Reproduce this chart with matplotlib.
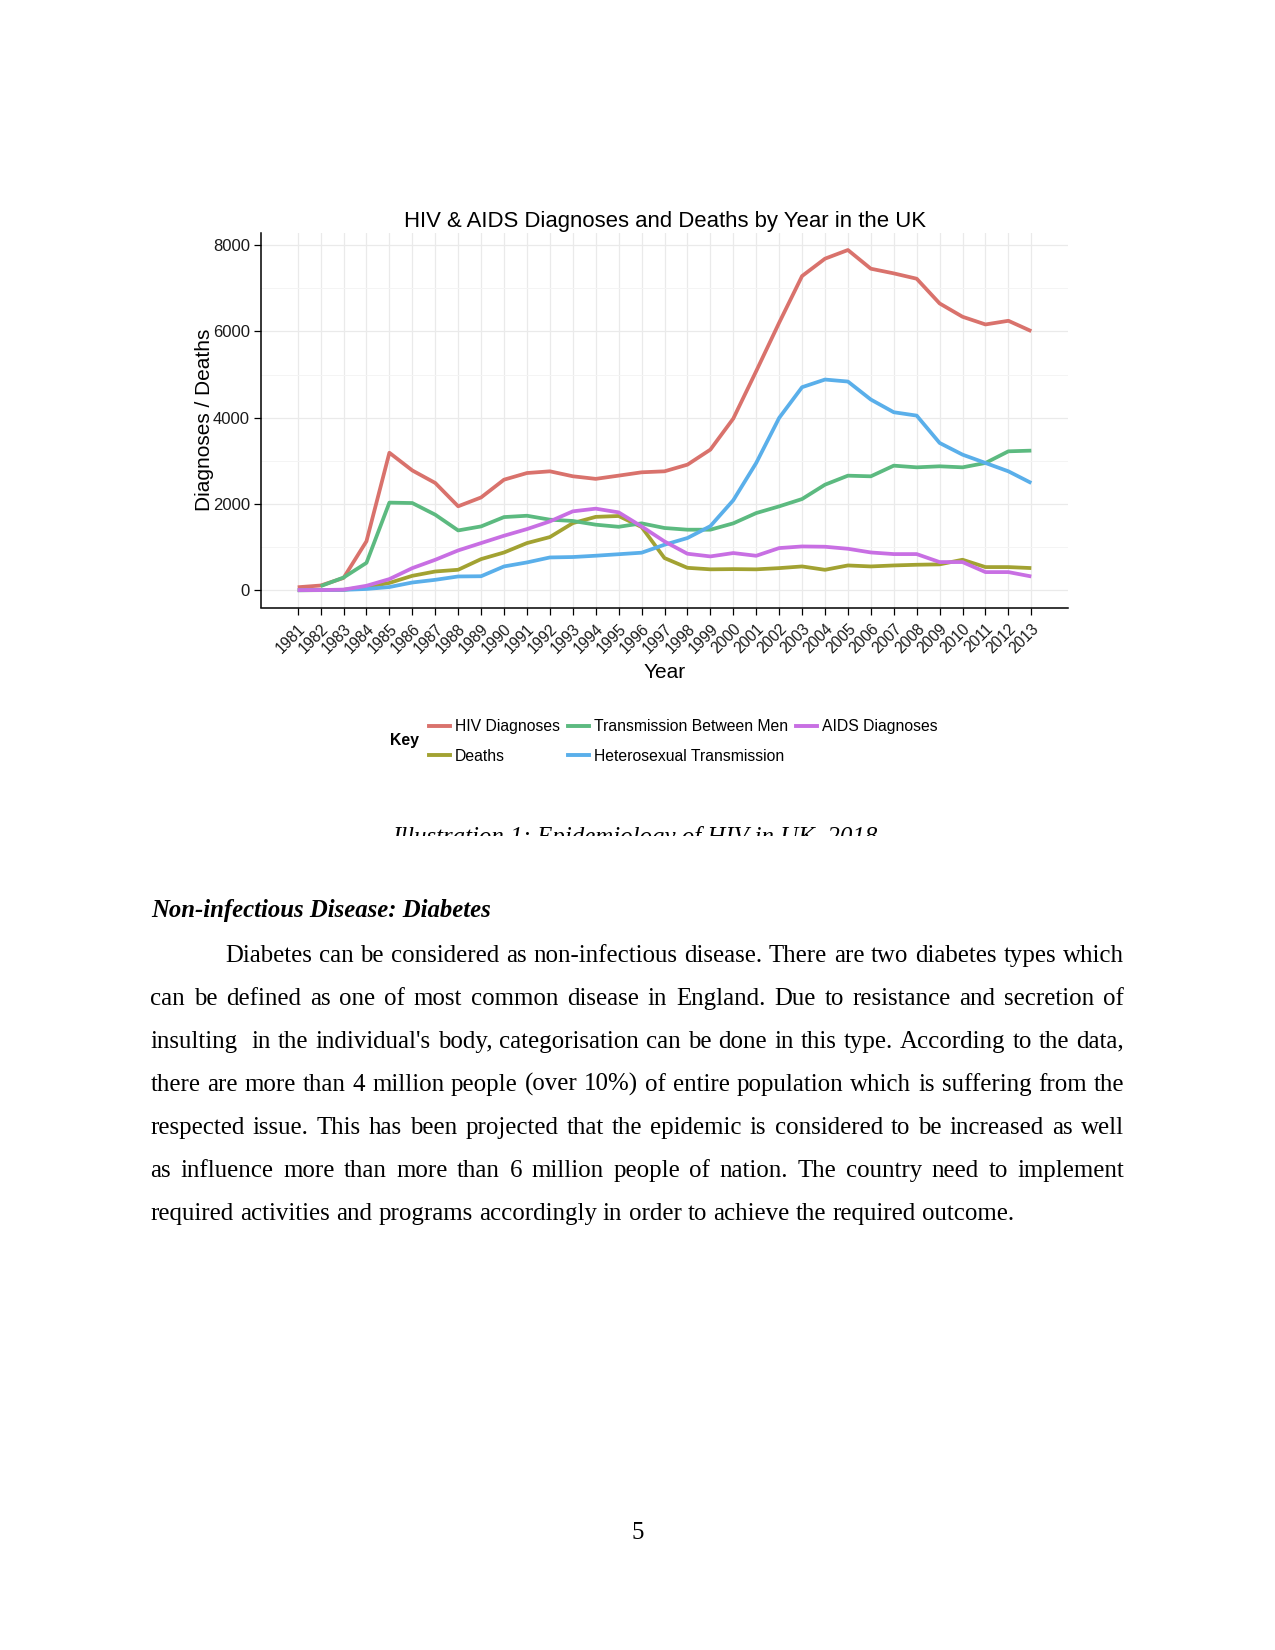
import matplotlib
matplotlib.use("Agg")
import matplotlib.pyplot as plt
import numpy as np
from matplotlib.patches import Rectangle
from matplotlib.lines import Line2D

# ---------------- data ----------------
years = list(range(1981, 2014))
hiv_diagnoses = [75, 115, 290, 1140, 3190, 2780, 2490, 1950, 2155, 2566, 2720, 2760,
                 2645, 2585, 2660, 2737, 2760, 2914, 3262, 3981, 5080, 6200, 7282,
                 7684, 7885, 7452, 7344, 7220, 6648, 6339, 6161, 6246, 6006]
deaths = [5, 8, 15, 80, 175, 340, 440, 480, 727, 880, 1098, 1237, 1560, 1705, 1725,
          1470, 751, 525, 490, 495, 490, 518, 557, 479, 580, 557, 580, 596, 605,
          712, 542, 542, 519]
men_transmission = [np.nan, 100, 300, 640, 2035, 2025, 1755, 1391, 1484, 1700, 1731,
                    1640, 1610, 1524, 1475, 1555, 1447, 1408, 1408, 1555, 1793, 1948,
                    2118, 2450, 2659, 2644, 2891, 2852, 2876, 2852, 2953, 3223, 3239]
hetero_transmission = [5, 10, 15, 35, 80, 185, 247, 325, 330, 557, 650, 765, 775, 805,
                       840, 875, 1060, 1215, 1490, 2090, 2953, 3996, 4708, 4885, 4839,
                       4422, 4128, 4050, 3417, 3146, 2953, 2760, 2489]
aids_diagnoses = [10, 10, 20, 109, 264, 518, 711, 928, 1098, 1268, 1422, 1600, 1833,
                  1895, 1809, 1484, 1136, 851, 789, 867, 804, 982, 1020, 1013, 966, 881,
                  843, 843, 658, 658, 426, 426, 325]

series_labels = ["HIV Diagnoses", "Deaths", "Transmission Between Men",
                 "Heterosexual Transmission", "AIDS Diagnoses"]
series_values = [hiv_diagnoses, deaths, men_transmission, hetero_transmission, aids_diagnoses]
series_colors = ["#D9726C", "#A2A232", "#5CBA80", "#5AAFEA", "#C86FE3"]

y_ticks = [0, 2000, 4000, 6000, 8000]
y_minor = [1000, 3000, 5000, 7000]

chart_title = "HIV & AIDS Diagnoses and Deaths by Year in the UK"
x_label = "Year"
y_label = "Diagnoses / Deaths"
legend_title = "Key"
caption = "Illustration 1: Epidemiology of HIV in UK, 2018"
heading = "Non-infectious Disease: Diabetes"
body_lines = [
    "Diabetes can be considered as non-infectious disease. There are two diabetes types which",
    "can be defined as one of most common disease in England. Due to resistance and secretion of",
    "insulting  in the individual's body, categorisation can be done in this type. According to the data,",
    "there are more than 4 million people (over 10%) of entire population which is suffering from the",
    "respected issue. This has been projected that the epidemic is considered to be increased as well",
    "as influence more than more than 6 million people of nation. The country need to implement",
    "required activities and programs accordingly in order to achieve the required outcome.",
]
page_number = "5"

# ---------------- figure ----------------
W, H, DPI = 1275, 1650, 100
plt.rcParams["font.family"] = ["Liberation Sans", "DejaVu Sans"]
fig = plt.figure(figsize=(W / DPI, H / DPI), dpi=DPI)
fig.patch.set_facecolor("white")


def fx(px):
    return px / W


def fy(py):
    return 1 - py / H


ax_l, ax_r, ax_t, ax_b = 261, 1068, 233, 607.5
ax = fig.add_axes([fx(ax_l), fy(ax_b), fx(ax_r) - fx(ax_l), fy(ax_t) - fy(ax_b)])
ax.set_facecolor("white")

for vals, lab, col in zip(series_values, series_labels, series_colors):
    ax.plot(years, vals, color=col, lw=2.7, label=lab,
            solid_capstyle="butt", solid_joinstyle="round")

ax.set_xlim(1979.4, 2014.6)
ax.set_ylim(-394, 8279)
ax.set_xticks(years)
ax.set_xticklabels([str(y) for y in years], rotation=45, ha="right",
                   rotation_mode="anchor")
ax.set_yticks(y_ticks)
ax.set_yticks(y_minor, minor=True)
ax.set_axisbelow(True)
ax.grid(which="major", color="#EAEAEA", lw=0.9)
ax.grid(which="minor", axis="y", color="#F4F4F4", lw=0.7)
ax.tick_params(which="minor", length=0)
ax.tick_params(which="major", direction="out", length=5, width=0.9, color="black",
               labelcolor="#1a1a1a")
ax.tick_params(axis="y", labelsize=12, pad=3)
ax.tick_params(axis="x", labelsize=11.2, pad=5)
for s in ["top", "right"]:
    ax.spines[s].set_visible(False)
for s in ["left", "bottom"]:
    ax.spines[s].set_color("black")
    ax.spines[s].set_linewidth(1.1)

ax.set_title(chart_title, fontsize=15.9, pad=4, color="black")
ax.set_xlabel(x_label, fontsize=15, color="black")
ax.xaxis.label.set_va("baseline")
ax.xaxis.set_label_coords(0.5, -(678 - ax_b) / (ax_b - ax_t))
ax.set_ylabel(y_label, fontsize=15, color="black")
ax.yaxis.set_label_coords(-(ax_l - 214) / (ax_r - ax_l), 0.5)

handles = [Line2D([], [], color=c, lw=2.8) for c in series_colors]
fig.legend(handles, series_labels, loc="center left",
           bbox_to_anchor=(fx(429), fy(741.5)), ncol=3, frameon=False,
           fontsize=11.3, handlelength=1.34, handletextpad=0.32,
           columnspacing=0.5, labelspacing=0.93, borderpad=0, borderaxespad=0)
fig.text(fx(390), fy(741), legend_title, fontweight="bold", fontsize=11.4,
         ha="left", va="center")

# ---------------- page text ----------------
renderer = fig.canvas.get_renderer()
SERIF = ["Liberation Serif", "DejaVu Serif"]


def text_width(s, **kw):
    t = fig.text(0, 0, s, **kw)
    w = t.get_window_extent(renderer).width
    t.remove()
    return w


def fit_size(s, target, **kw):
    w = text_width(s, fontsize=18, **kw)
    return 18 * target / w


body_size = fit_size(body_lines[-1], 863.6, family=SERIF)
head_size = fit_size(heading, 341, family=SERIF, fontweight="bold", style="italic")
cap_size = fit_size(caption, 485, family=SERIF, style="italic")

# caption (partly hidden by the page frame below it)
cap_px = cap_size * DPI / 72
cap_base = 827.7 + 0.662 * cap_px
fig.text(fx(392), fy(cap_base), caption, family=SERIF, style="italic",
         fontsize=cap_size, ha="left", va="baseline")
fig.add_artist(Rectangle((fx(370), fy(860)), fx(900) - fx(370), (860 - 835.5) / H,
                         transform=fig.transFigure, facecolor="white",
                         edgecolor="none", zorder=10))

fig.text(fx(151), fy(917.5), heading, family=SERIF, fontweight="bold", style="italic",
         fontsize=head_size, ha="left", va="baseline")

left, right = 150.4, 1124.0
base0, step = 961.7, 43.1
space_w = text_width("a a", family=SERIF, fontsize=body_size) - \
    text_width("aa", family=SERIF, fontsize=body_size)
for k, line in enumerate(body_lines):
    y = base0 + k * step
    x0 = left + (75 if k == 0 else 0)
    words = line.split(" ")
    widths = [text_width(w, family=SERIF, fontsize=body_size) if w else 0 for w in words]
    if k == len(body_lines) - 1:
        gap = space_w
    else:
        gap = (right - x0 - sum(widths)) / (len(words) - 1)
    x = x0
    for w, ww in zip(words, widths):
        if w:
            fig.text(fx(x), fy(y), w, family=SERIF, fontsize=body_size,
                     ha="left", va="baseline")
        x += ww + gap

fig.text(fx(637.7), fy(1539.3), page_number, family=SERIF, fontsize=body_size,
         ha="center", va="baseline")

fig.savefig("out.png", dpi=DPI, facecolor="white")
